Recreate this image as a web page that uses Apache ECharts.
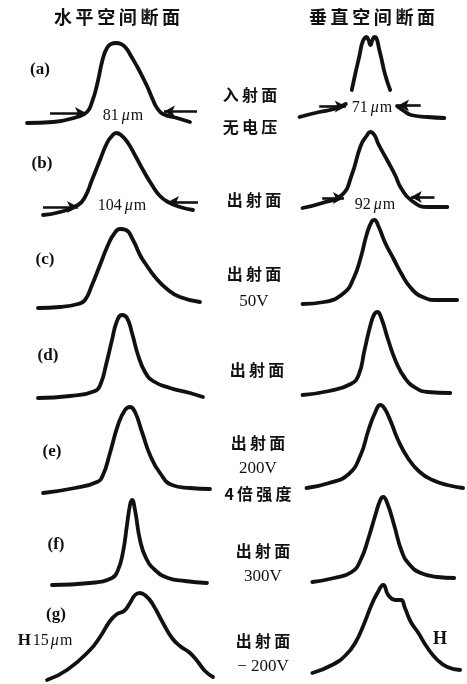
<!DOCTYPE html>
<html><head><meta charset="utf-8">
<script src="https://cdn.jsdelivr.net/npm/echarts@6/dist/echarts.min.js"></script>
<style>html,body{margin:0;padding:0;background:#fff}#c{width:467px;height:684px}</style>
</head><body><div id="c"></div>
<script>
// ---- Horizontal-section profiles (x: relative position 0-100, y: intensity 0-100)
const horizA = [[3.5,7],[16.5,8],[28.5,13],[33.5,18],[36,28],[38.5,45],[41.5,72],[43.5,82],[45.5,86],[48,87],[50.5,86],[53,82],[55.5,74],[59.5,60],[63.5,44],[66.5,30],[68.5,22],[71.5,16],[78.5,12],[85,8]];
const horizB = [[11.5,0],[20,3],[29,10],[32.5,18],[36,35],[40,55],[43.5,72],[46,79],[48,82],[50.5,80],[54,72],[58,58],[61.5,45],[66,30],[70,19],[74,13],[80,8],[86.5,5]];
const horizC = [[9,2],[20,3],[29,6],[32.5,10],[36,25],[40,45],[44,65],[47,76],[50,81],[53,80],[56.5,70],[60,55],[62.5,47],[67.5,33],[73.5,21],[80,13],[90,8]];
const horizD = [[9,2],[25,4],[37.5,9],[40.5,17],[43,35],[46,60],[48.5,79],[51,85],[53.5,82],[56,67],[59,45],[62.5,28],[66.5,19],[75,12],[85,7],[91.5,3]];
const horizE = [[11.5,2],[27.5,7],[38.5,13],[41.5,20],[45,42],[49,70],[52.5,85],[55,88],[57.5,83],[61,63],[65,40],[70,22],[76,10],[85,7],[95,6]];
const horizF = [[16,2],[35,4],[46,9],[49,17],[51.5,35],[53.5,62],[55,82],[56,87],[57.5,77],[60,47],[63,29],[67.5,17],[74,9],[82.5,6],[93.5,4]];
const horizG = [[13.5,2],[23.5,12],[35,32],[40,45],[45,61],[48.5,68],[52,71],[55,79],[57.5,87],[60,89],[63,86],[66,79],[71.5,59],[76,44],[80,36],[85,29],[89,20],[92.5,11],[96.5,5]];
// ---- Vertical-section profiles
const vertATop = [[41.5,40],[43.5,58],[45.5,75],[47,88],[49,93],[50,90],[51,85],[52,90],[53,93],[54,92],[55.5,80],[56.5,72],[58.5,55],[61,40]];
const vertABaseL = [[15,13],[25,18],[32.5,21],[38.5,26]];
const vertABaseR = [[64.5,24],[68,19],[71.5,15],[80,13],[88.5,12]];
const vertB = [[16.5,7],[26.5,12],[36.5,20],[41.5,40],[46,69],[49,79],[51,83],[53,80],[55,71],[60,53],[63.5,40],[66.5,27],[71.5,15],[80,8],[90,8]];
const vertC = [[16.5,6],[27.5,8],[37.5,17],[42.5,32],[46,52],[49,75],[51.5,88],[53,90],[55,84],[58.5,67],[62.5,52],[66.5,37],[71.5,22],[77.5,13],[85,10],[95,10]];
const vertD = [[16.5,5],[30,9],[41,16],[45,25],[48,50],[51,75],[53,86],[54.5,88],[56.5,82],[60,60],[64,38],[68.5,22],[74,12],[80,8],[91.5,7]];
const vertE = [[18.5,7],[30,12],[40,21],[46,40],[50,65],[53.5,83],[56,90],[58,87],[61,75],[65,55],[70,37],[76,23],[82.5,15],[90,10],[98,7]];
const vertF = [[21.5,5],[32.5,9],[41.5,15],[46,27],[50,49],[53.5,72],[56,87],[57.5,90],[59.5,84],[63,62],[67,35],[71,22],[76.5,14],[85,10],[93.5,9]];
const vertG = [[21.5,9],[31.5,17],[38.5,27],[43.5,40],[47.5,57],[51.5,77],[54.5,89],[57.5,97],[60,87],[63.5,82],[66.5,82],[68.5,74],[71.5,60],[75,50],[80,34],[85,22],[90,15],[96.5,12]];
// ---- Width-marker arrows ([from],[to]) in the same units
const arrowsHA = [[[15,17],[33,17]],[[88.5,18.5],[72,18.5]]];
const arrowsHB = [[[11.5,8],[29,8]],[[89,13],[74,13]]];
const arrowsVA = [[[25,23.5],[38.5,23.5]],[[76.5,24.5],[65,24.5]]];
const arrowsVB = [[[26.5,17],[37.5,17]],[[83.5,18],[71.5,18]]];
// ---- Texts
const columnTitles = ['水平空间断面','垂直空间断面'];
const panelLetters = ['(a)','(b)','(c)','(d)','(e)','(f)','(g)'];
const widthLabels = ['81','104','71','92'];
const centerCaptions = [['入射面','无电压'],['出射面'],['出射面','50V'],['出射面'],['出射面','200V','4倍强度'],['出射面','300V'],['出射面','− 200V']];
const gLabels = ['H15μm','H'];

const rowBottoms = [130,215,310,400,495,587,682];
const colLefts = [20,270];

const panels = [
  {row:0,col:0,curves:[horizA],arrows:arrowsHA},
  {row:1,col:0,curves:[horizB],arrows:arrowsHB},
  {row:2,col:0,curves:[horizC]},
  {row:3,col:0,curves:[horizD]},
  {row:4,col:0,curves:[horizE]},
  {row:5,col:0,curves:[horizF]},
  {row:6,col:0,curves:[horizG]},
  {row:0,col:1,curves:[vertATop,vertABaseL,vertABaseR],arrows:arrowsVA},
  {row:1,col:1,curves:[vertB],arrows:arrowsVB},
  {row:2,col:1,curves:[vertC]},
  {row:3,col:1,curves:[vertD]},
  {row:4,col:1,curves:[vertE]},
  {row:5,col:1,curves:[vertF]},
  {row:6,col:1,curves:[vertG]}
];

const grid=[],xAxis=[],yAxis=[],series=[];
panels.forEach((p,i)=>{
  grid.push({left:colLefts[p.col],top:rowBottoms[p.row]-100,width:200,height:100});
  xAxis.push({type:'value',gridIndex:i,min:0,max:100,show:false});
  yAxis.push({type:'value',gridIndex:i,min:0,max:100,show:false});
  p.curves.forEach((c,k)=>{
    const s={type:'line',xAxisIndex:i,yAxisIndex:i,data:c,smooth:0.5,
      showSymbol:false,symbol:'none',silent:true,
      lineStyle:{color:'#111',width:3.8,cap:'round',join:'round'}};
    if(k===0 && p.arrows){
      s.markLine={silent:true,symbol:['none','arrow'],symbolSize:[9,11],animation:false,
        label:{show:false},lineStyle:{color:'#111',width:2.6,type:'solid'},
        data:p.arrows.map(a=>[{coord:a[0]},{coord:a[1]}])};
    }
    series.push(s);
  });
});

const CJK='"Noto Sans CJK SC","Noto Sans CJK JP",sans-serif';
const SERIF='"Liberation Serif","DejaVu Serif",serif';
const sp=s=>s.split('').join('\u2009');
const graphic=[];
function txt(x,y,text,font,size,weight,extra){
  graphic.push({type:'text',x:x,y:y,silent:true,style:Object.assign({text:text,fontFamily:font,fontSize:size,fontWeight:weight,fill:'#111',align:'center',verticalAlign:'middle'},extra||{})});
}
txt(117,17,sp(columnTitles[0]),CJK,18,'bold');
txt(372,17,sp(columnTitles[1]),CJK,18,'bold');
const letterPos=[[40,70],[42,164],[45,260],[48,356],[52,452],[56,545],[56,615]];
panelLetters.forEach((l,i)=>txt(letterPos[i][0],letterPos[i][1],l,SERIF,17,'bold'));
const capPos=[[250,[95,127]],[254,[200]],[254,[274,302]],[257,[370]],[258,[443,469,494]],[263,[551,577]],[263,[641,667]]];
centerCaptions.forEach((lines,i)=>{
  lines.forEach((t,j)=>{
    const isCJK=/[\u4e00-\u9fff]/.test(t);
    if(isCJK) txt(capPos[i][0],capPos[i][1][j],sp(t),CJK,16,'bold');
    else txt(capPos[i][0],capPos[i][1][j],t,SERIF,17,'normal');
  });
});
const wPos=[[123,116],[122,206],[372,108],[375,205]];
widthLabels.forEach((w,i)=>{
  graphic.push({type:'text',x:wPos[i][0],y:wPos[i][1],silent:true,style:{
    text:'{n|'+w+'}{u|μ}{n|m}',align:'center',verticalAlign:'middle',fill:'#111',
    rich:{n:{fontFamily:SERIF,fontSize:16,fill:'#111'},u:{fontFamily:SERIF,fontSize:16,fontStyle:'italic',fill:'#111',padding:[0,1,0,3]}}}});
});
graphic.push({type:'text',x:45,y:641,silent:true,style:{
  text:'{b|H}{n|15}{u|μ}{n|m}',align:'center',verticalAlign:'middle',
  rich:{b:{fontFamily:SERIF,fontSize:17,fontWeight:'bold',fill:'#111',padding:[0,2,0,0]},n:{fontFamily:SERIF,fontSize:16,fill:'#111'},u:{fontFamily:SERIF,fontSize:16,fontStyle:'italic',fill:'#111',padding:[0,1,0,2]}}}});
txt(440,639,gLabels[1],SERIF,18,'bold');

const chart=echarts.init(document.getElementById('c'),null,{renderer:'canvas'});
chart.setOption({animation:false,backgroundColor:'#fff',grid,xAxis,yAxis,series,graphic});
</script></body></html>
